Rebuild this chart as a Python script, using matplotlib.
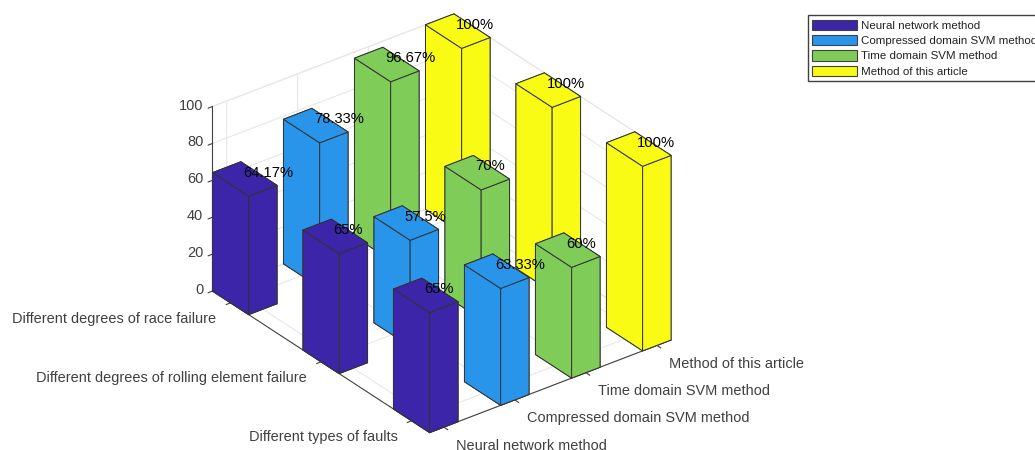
"""3D bar chart of fault recognition rates per method and fault class."""
import matplotlib; matplotlib.use("Agg")
import matplotlib.pyplot as plt
from matplotlib.patches import Patch

methods = ["Neural network method", "Compressed domain SVM method",
           "Time domain SVM method", "Method of this article"]
faults = ["Different types of faults", "Different degrees of rolling element failure",
          "Different degrees of race failure"]
types_vals = [65, 63.33, 60, 100]
rolling_vals = [65, 57.5, 70, 100]
race_vals = [64.17, 78.33, 96.67, 100]
colors = ["#3c25a8", "#2895ea", "#80cc58", "#f9fb15"]
z_ticks = [0, 20, 40, 60, 80, 100]

INK, GRID = "#404040", "#e4e4e4"
W = 0.4

plt.rcParams["font.family"] = ["Liberation Sans", "DejaVu Sans"]
plt.rcParams["grid.color"] = GRID
plt.rcParams["grid.linewidth"] = 0.7
plt.rcParams["axes.linewidth"] = 0.7

fig = plt.figure(figsize=(10.35, 4.5), dpi=100, facecolor="white")
ax = fig.add_axes([185 / 1035, -30 / 450, 500 / 1035, 500 / 450], projection="3d",
                  proj_type="ortho", computed_zorder=False)
ax.patch.set_alpha(0)
ax.view_init(elev=30, azim=-127.5)
ax.set_xlim(0.8, 4.2)
ax.set_ylim(0.8, 3.2)
ax.set_zlim(0, 100)
ax.set_box_aspect((305, 357.6, 213.6), zoom=1)

rows = [types_vals, rolling_vals, race_vals]
# back to front so the near bars cover the far ones
for j in range(2, -1, -1):
    for i in range(3, -1, -1):
        v = rows[j][i]
        ax.bar3d(i + 1 - W / 2, j + 1 - W / 2, 0, W, W, v, color=colors[i], shade=False,
                 edgecolor="#333333", linewidth=0.7, zorder=10 + (2 - j) * 4 + (3 - i))
        ax.text(i + 1 - 0.025, j + 1, v, f"{v:g}%", fontsize=10.6, ha="left", va="bottom",
                color="black", zorder=100)

ax.set_xticks([1, 2, 3, 4])
ax.set_xticklabels(methods, ha="left", va="center", fontsize=10.45, color=INK)
ax.set_yticks([1, 2, 3])
ax.set_yticklabels(faults, ha="right", va="center", fontsize=10.45, color=INK)
ax.set_zticks(z_ticks)
ax.set_zticklabels([str(z) for z in z_ticks], ha="right", va="center", fontsize=10.45, color=INK)
for axis in (ax.xaxis, ax.yaxis, ax.zaxis):
    axis.pane.set_facecolor("white")
    axis.pane.set_edgecolor(GRID)
    axis.line.set_color(INK)
    axis.line.set_linewidth(0.8)
    axis.set_tick_params(color=INK, width=0.7)
    # mplot3d's tick sign runs the other way for this view
    axis._axinfo["tick"].update({"inward_factor": 0.22, "outward_factor": 0.0})
ax.xaxis.set_tick_params(pad=2.6)
ax.yaxis.set_tick_params(pad=3.0)
ax.zaxis.set_tick_params(pad=-4.2)

handles = [Patch(facecolor=c, edgecolor=INK, linewidth=0.8) for c in colors]
fig.legend(handles, methods, loc="upper left", bbox_to_anchor=(808 / 1035, 1 - 15.5 / 450),
           borderaxespad=0, fontsize=8.25, handlelength=3.95, handleheight=1.05,
           labelspacing=0.36, handletextpad=0.3, borderpad=0.35, fancybox=False,
           framealpha=1, edgecolor=INK, labelcolor="#222222")

fig.savefig("out.png", dpi=100, facecolor="white")
